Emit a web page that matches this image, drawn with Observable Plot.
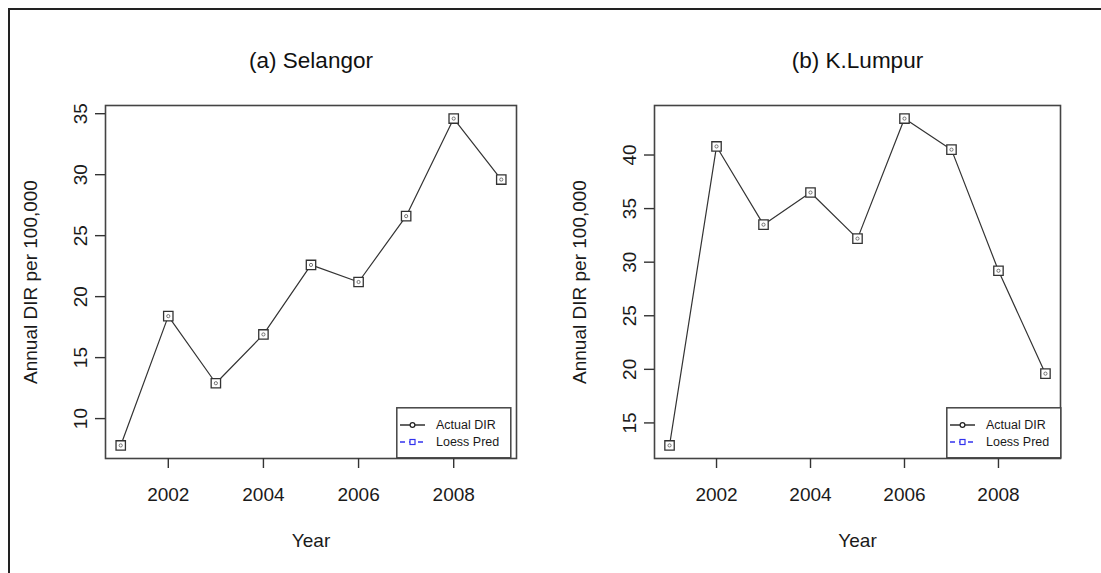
<!DOCTYPE html>
<html>
<head>
<meta charset="utf-8">
<script src="https://cdn.jsdelivr.net/npm/d3@7"></script>
<script src="https://cdn.jsdelivr.net/npm/@observablehq/plot@0.6"></script>
<style>
  html, body { margin: 0; padding: 0; background: #fff; }
  body { width: 1101px; height: 573px; overflow: hidden; position: relative; font-family: "Liberation Sans", Arial, sans-serif; }
  #border { position: absolute; left: 8px; top: 8px; width: 1200px; height: 700px; border: 2.5px solid #222; box-sizing: border-box; }
  .panel { position: absolute; top: 0; }
  .legend { position: absolute; }
</style>
</head>
<body>
<div id="border"></div>
<div id="pa" class="panel" style="left:0px"></div>
<div id="pb" class="panel" style="left:550px"></div>
<script>
// ---- data ----
const years = [2001, 2002, 2003, 2004, 2005, 2006, 2007, 2008, 2009];
const selangor = [7.8, 18.4, 12.9, 16.9, 22.6, 21.2, 26.6, 34.6, 29.6];
const klumpur = [12.9, 40.8, 33.5, 36.5, 32.2, 43.4, 40.5, 29.2, 19.6];
const xTicks = [2002, 2004, 2006, 2008];
const yTicksA = [10, 15, 20, 25, 30, 35];
const yTicksB = [15, 20, 25, 30, 35, 40];
const titles = ["(a) Selangor", "(b) K.Lumpur"];
const xLabel = "Year";
const yLabel = "Annual DIR per 100,000";
const legendLabels = ["Actual DIR", "Loess Pred"];

const font = "'Liberation Sans', Arial, sans-serif";

function rDomain(vals) {
  const [a, b] = d3.extent(vals);
  const p = (b - a) * 0.04;
  return [a - p, b + p];
}

function panel(values, yTicks, title, width, marginLeft, marginRight) {
  const rows = years.map((y, i) => ({year: y, v: values[i]}));
  return Plot.plot({
    width, height: 573,
    marginLeft, marginRight, marginTop: 105, marginBottom: 115,
    style: {fontFamily: font, color: "#1a1a1a", background: "transparent", overflow: "visible"},
    x: {domain: rDomain(years)},
    y: {domain: rDomain(values)},
    marks: [
      Plot.frame({stroke: "#444", strokeWidth: 1.6}),
      Plot.axisX({ticks: xTicks, tickSize: 10, tickPadding: 19, tickFormat: d => String(d), fontSize: 19, label: null, stroke: "#333", strokeWidth: 1.4}),
      Plot.axisY({ticks: yTicks, tickSize: 10, tickPadding: 9, tickRotate: -90, fontSize: 19, label: null, stroke: "#333", strokeWidth: 1.4}),
      Plot.line(rows, {x: "year", y: "v", stroke: "#333", strokeWidth: 1.2}),
      Plot.dot(rows, {x: "year", y: "v", symbol: "square", r: 5.3, stroke: "#333", fill: "white", strokeWidth: 1.3}),
      Plot.dot(rows, {x: "year", y: "v", r: 1.6, stroke: "#555", strokeWidth: 0.8}),
      Plot.text([title], {frameAnchor: "top", dy: -45, lineAnchor: "middle", fontSize: 22.5, fill: "#111"}),
      Plot.text([xLabel], {frameAnchor: "bottom", dy: 82, lineAnchor: "middle", fontSize: 19, fill: "#1a1a1a"}),
      Plot.text([yLabel], {frameAnchor: "left", dx: -75, rotate: -90, textAnchor: "middle", lineAnchor: "middle", fontSize: 19, fill: "#1a1a1a"})
    ]
  });
}

function legend(container, left, top) {
  const w = 114, h = 50;
  const svg = d3.select(container).append("svg")
    .attr("class", "legend")
    .style("left", left + "px").style("top", top + "px")
    .attr("width", w + 2).attr("height", h + 2);
  svg.append("rect").attr("x", 0.8).attr("y", 0.8).attr("width", w).attr("height", h)
    .attr("fill", "white").attr("stroke", "#444").attr("stroke-width", 1.5);
  const rowsY = [18, 35];
  // Actual DIR
  svg.append("line").attr("x1", 4).attr("x2", 29).attr("y1", rowsY[0]).attr("y2", rowsY[0]).attr("stroke", "#222").attr("stroke-width", 1.4);
  svg.append("circle").attr("cx", 16.5).attr("cy", rowsY[0]).attr("r", 2.4).attr("fill", "white").attr("stroke", "#222").attr("stroke-width", 1.2);
  // Loess Pred
  svg.append("line").attr("x1", 4).attr("x2", 29).attr("y1", rowsY[1]).attr("y2", rowsY[1]).attr("stroke", "#3333ee").attr("stroke-width", 1.4).attr("stroke-dasharray", "5,4");
  svg.append("rect").attr("x", 14).attr("y", rowsY[1] - 2.5).attr("width", 5).attr("height", 5).attr("fill", "white").attr("stroke", "#3333ee").attr("stroke-width", 1.2);
  legendLabels.forEach((t, i) => {
    svg.append("text").attr("x", 40).attr("y", rowsY[i]).attr("dy", "0.35em")
      .attr("font-family", font).attr("font-size", 12.5).attr("fill", "#1a1a1a").text(t);
  });
}

const pa = document.getElementById("pa");
const pb = document.getElementById("pb");
pa.appendChild(panel(selangor, yTicksA, titles[0], 550, 105, 34));
pb.appendChild(panel(klumpur, yTicksB, titles[1], 551, 104, 41));
legend(pa, 396, 407);
legend(pb, 396, 407);
</script>
</body>
</html>
